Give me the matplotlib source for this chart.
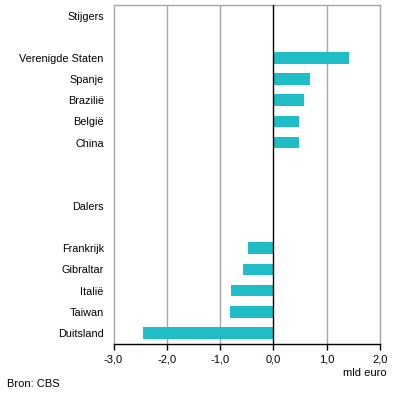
import matplotlib
matplotlib.use("Agg")
import matplotlib.pyplot as plt

categories = ["Stijgers", "", "Verenigde Staten", "Spanje", "Brazilië", "België", "China",
              "", "", "Dalers", "", "Frankrijk", "Gibraltar", "Italië", "Taiwan", "Duitsland"]
values = [None, None, 1.41, 0.69, 0.57, 0.48, 0.48,
          None, None, None, None, -0.47, -0.57, -0.80, -0.82, -2.44]
xticks = [-3, -2, -1, 0, 1, 2]
xticklabels = ["-3,0", "-2,0", "-1,0", "0,0", "1,0", "2,0"]

plt.rcParams['font.family'] = ['Liberation Sans', 'DejaVu Sans']
fig = plt.figure(figsize=(3.96, 4.0), dpi=100)
ax = fig.add_axes([113.5/396, 1-343.5/400, (380-113.5)/396, (343.5-5)/400])

grid_c = "#a6a6a6"
for x in [-2, -1, 1]:
    ax.axvline(x, color=grid_c, lw=1, zorder=1)
ax.axvline(0, color="black", lw=1, zorder=3)

ys = list(range(len(categories)))
for y, v in zip(ys, values):
    if v is not None:
        ax.barh(y, v, height=0.55, color="#1fbdc6", zorder=2)

ax.set_xlim(-3, 2)
ax.set_ylim(len(categories) - 0.5, -0.5)
ax.set_yticks(ys)
ax.set_yticklabels(categories, fontsize=7.8)
ax.tick_params(axis='y', length=0, pad=7)
ax.set_xticks(xticks)
ax.set_xticklabels(xticklabels, fontsize=8)
ax.tick_params(axis='x', length=4, width=1, color="black", pad=4)
for s in ["left", "right", "top"]:
    ax.spines[s].set_color(grid_c)
    ax.spines[s].set_linewidth(1)
ax.spines["bottom"].set_color("black")
ax.spines["bottom"].set_linewidth(1)

fig.text(387/396, 1-373/400, "mld euro", ha="right", va="center", fontsize=8)
fig.text(7/396, 1-384/400, "Bron: CBS", ha="left", va="center", fontsize=8)

fig.savefig("out.png", dpi=100)
